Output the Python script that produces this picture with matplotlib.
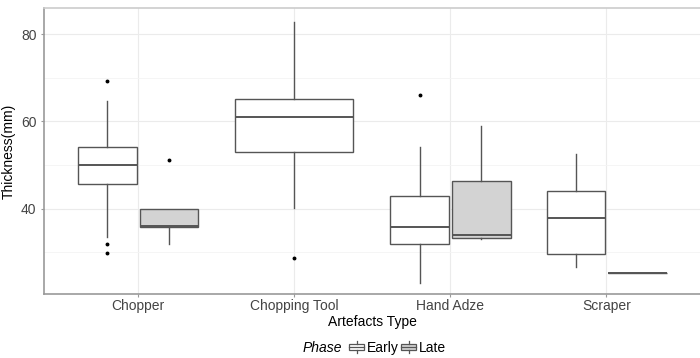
import matplotlib
matplotlib.use("Agg")
import matplotlib.pyplot as plt
from matplotlib.legend_handler import HandlerBase
from matplotlib.patches import Rectangle
from matplotlib.lines import Line2D

plt.rcParams["font.family"] = ["Liberation Sans", "DejaVu Sans"]

# categories and phases
categories = ["Chopper", "Chopping Tool", "Hand Adze", "Scraper"]
phases = ["Early", "Late"]

# box stats per (category, phase): lower whisker, q1, median, q3, upper whisker
early_whislo = [33.5, 40.2, 23.1, 26.6]
early_q1 = [45.7, 52.9, 31.9, 29.7]
early_med = [50.0, 61.1, 35.9, 37.9]
early_q3 = [54.2, 65.1, 43.0, 44.0]
early_whishi = [64.7, 82.7, 54.2, 52.6]
early_fliers = [[69.2, 32.0, 29.9], [28.8], [66.0], []]

late_whislo = [32.0, None, 33.1, 25.3]
late_q1 = [35.9, None, 33.4, 25.3]
late_med = [36.0, None, 33.9, 25.3]
late_q3 = [40.0, None, 46.3, 25.3]
late_whishi = [40.0, None, 58.9, 25.3]
late_fliers = [[51.1], [], [], []]

edge = "#555555"
fills = {"Early": "white", "Late": "#d3d3d3"}

fig = plt.figure(figsize=(7, 3.58), dpi=100)
ax = fig.add_axes([0.063, 0.179, 0.937, 0.799])

def draw(stats_lists, phase, offset, width, idx):
    whislo, q1, med, q3, whishi, fl = stats_lists
    if med[idx] is None:
        return
    st = [{"whislo": whislo[idx], "q1": q1[idx], "med": med[idx], "q3": q3[idx],
           "whishi": whishi[idx], "fliers": fl[idx]}]
    ax.bxp(st, positions=[idx + 1 + offset], widths=width, patch_artist=True,
           showcaps=False, manage_ticks=False,
           boxprops=dict(facecolor=fills[phase], edgecolor=edge, linewidth=1.0),
           medianprops=dict(color=edge, linewidth=1.4),
           whiskerprops=dict(color=edge, linewidth=1.0),
           flierprops=dict(marker="o", markersize=1.8, markerfacecolor="black",
                           markeredgecolor="black", linestyle="none"))

early = (early_whislo, early_q1, early_med, early_q3, early_whishi, early_fliers)
late = (late_whislo, late_q1, late_med, late_q3, late_whishi, late_fliers)

for i in range(len(categories)):
    if late_med[i] is None:
        draw(early, "Early", 0.0, 0.76, i)
    else:
        draw(early, "Early", -0.195, 0.375, i)
        draw(late, "Late", 0.2, 0.375, i)

ax.set_xlim(0.4, 4.6)
ax.set_ylim(20.5, 86)
ax.set_xticks(range(1, len(categories) + 1))
ax.set_xticklabels(categories, fontsize=10, color="#444444")
ax.set_yticks([40, 60, 80])
ax.set_yticks([30, 50, 70], minor=True)
ax.tick_params(axis="y", labelsize=10, labelcolor="#444444", length=2, color="#999999")
ax.tick_params(axis="y", which="minor", length=0)
ax.tick_params(axis="x", length=2, color="#999999", pad=2)
ax.grid(True, which="major", color="#ebebeb", linewidth=0.8)
ax.grid(True, which="minor", axis="y", color="#f4f4f4", linewidth=0.6)
ax.set_axisbelow(True)

for s in ["left", "bottom"]:
    ax.spines[s].set_color("#999999")
    ax.spines[s].set_linewidth(1.2)
ax.spines["top"].set_color("#cccccc")
ax.spines["top"].set_linewidth(1.2)
ax.spines["right"].set_visible(False)

ax.set_xlabel("Artefacts Type", fontsize=10, labelpad=1)
ax.set_ylabel("Thickness(mm)", fontsize=10, labelpad=4)


class BoxHandler(HandlerBase):
    def __init__(self, fill):
        super().__init__()
        self.fill = fill

    def create_artists(self, legend, orig_handle, xdescent, ydescent, width, height, fontsize, trans):
        w = width * 0.95
        x0 = (width - w) / 2 - xdescent
        y0 = -ydescent - height * 0.15
        h = height * 1.3
        rect = Rectangle((x0, y0 + h * 0.25), w, h * 0.5, facecolor=self.fill,
                         edgecolor=edge, linewidth=0.9, transform=trans)
        med = Line2D([x0, x0 + w], [y0 + h * 0.5] * 2, color=edge, linewidth=0.9, transform=trans)
        wt = Line2D([x0 + w / 2] * 2, [y0 + h * 0.75, y0 + h], color=edge, linewidth=0.9, transform=trans)
        wb = Line2D([x0 + w / 2] * 2, [y0, y0 + h * 0.25], color=edge, linewidth=0.9, transform=trans)
        return [rect, med, wt, wb]


handles = [Rectangle((0, 0), 1, 1, label=p) for p in phases]
leg = fig.legend(handles, phases, loc="center", bbox_to_anchor=(0.568, 0.028), ncol=2,
                 frameon=False, fontsize=10, handlelength=1.1, handletextpad=0.2,
                 columnspacing=0.15, borderpad=0,
                 handler_map={handles[0]: BoxHandler(fills["Early"]), handles[1]: BoxHandler(fills["Late"])})
fig.text(0.489, 0.028, "Phase", style="italic", fontsize=10, ha="right", va="center")

fig.savefig("out.png", dpi=100, facecolor="white")
